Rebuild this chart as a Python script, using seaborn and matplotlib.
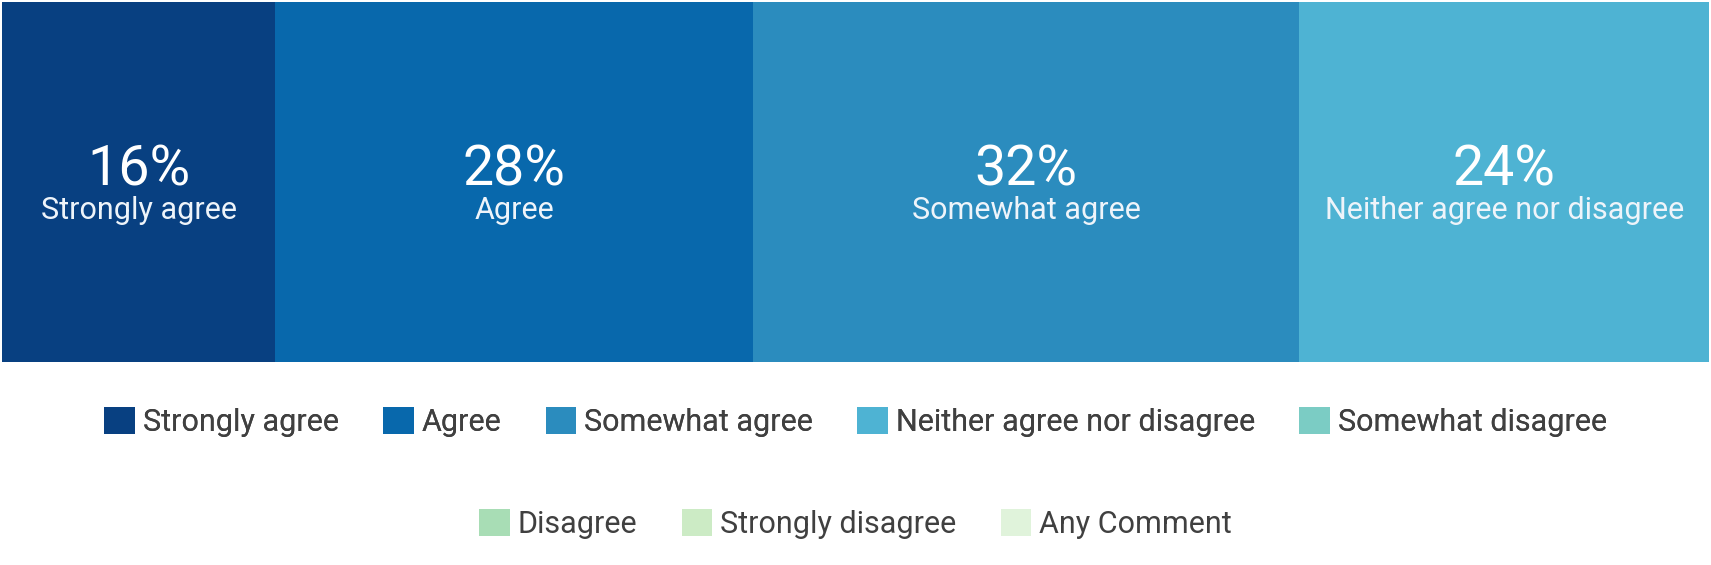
import seaborn as sns
import matplotlib.pyplot as plt
import matplotlib.patches as mpatches
import matplotlib.transforms as mtransforms
import numpy as np
import pandas as pd

sns.set_theme(style="white")
plt.rcParams['font.family'] = ['Roboto', 'DejaVu Sans']

# Data
categories = ["Strongly agree", "Agree", "Somewhat agree", "Neither agree nor disagree",
              "Somewhat disagree", "Disagree", "Strongly disagree", "Any Comment"]
percents = [16, 28, 32, 24, 0, 0, 0, 0]
colors = ["#084081", "#0868ac", "#2b8cbe", "#4eb3d3",
          "#7bccc4", "#a8ddb5", "#ccebc5", "#e0f3db"]

fig = plt.figure(figsize=(17.11, 5.65), dpi=100)
ax = fig.add_axes([2 / 1711, (565 - 362) / 565, 1707 / 1711, 360 / 565])

# stacked bar: draw cumulative totals from the longest down
cum = np.cumsum(percents)
shown = [i for i, p in enumerate(percents) if p > 0]
for i in reversed(shown):
    df = pd.DataFrame({"row": ["all"], "value": [cum[i]]})
    sns.barplot(data=df, x="value", y="row", color=colors[i], saturation=1,
                width=1, linewidth=0, ax=ax, orient="h")

ax.set_xlim(0, 100)
ax.set_ylim(0.5, -0.5)
ax.axis("off")

trans = mtransforms.blended_transform_factory(ax.transData, ax.transAxes)
for i in shown:
    mid = cum[i] - percents[i] / 2
    ax.text(mid, 0.49, f"{percents[i]}%", transform=trans, ha="center",
            va="baseline", color="white", fontsize=40)
    ax.text(mid, 0.397, categories[i], transform=trans, ha="center",
            va="baseline", color="#eef4fa", fontsize=22)

handles = [mpatches.Patch(facecolor=c, edgecolor="none", label=l)
           for c, l in zip(colors, categories)]
leg_kw = dict(frameon=False, fontsize=22, handlelength=1.0, handleheight=1.0,
              handletextpad=0.26, columnspacing=1.45, labelcolor="#404040",
              loc="center")
leg1 = fig.legend(handles=handles[:5], ncol=5, bbox_to_anchor=(0.5, 0.253), **leg_kw)
fig.add_artist(leg1)
fig.legend(handles=handles[5:], ncol=3, bbox_to_anchor=(0.5, 0.073), **leg_kw)

plt.savefig("out.png", dpi=100)
